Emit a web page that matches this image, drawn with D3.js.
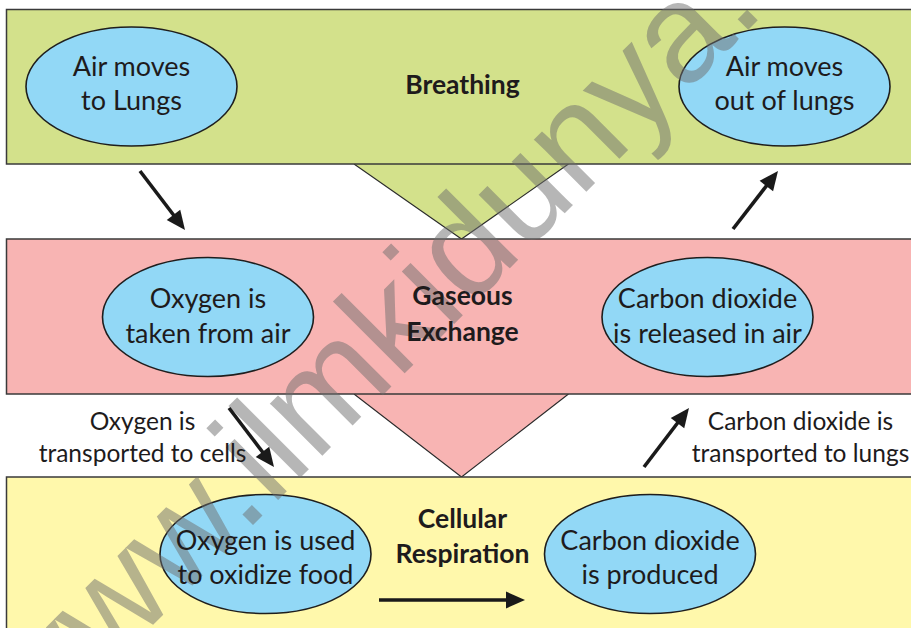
<!DOCTYPE html>
<html>
<head>
<meta charset="utf-8">
<script src="https://cdn.jsdelivr.net/npm/d3@7"></script>
<style>
  html, body { margin: 0; padding: 0; background: #ffffff; }
  svg { display: block; }
</style>
</head>
<body>
<div id="chart"></div>
<script>
// ---------------- data ----------------
const stages = ["Breathing", "Gaseous Exchange", "Cellular Respiration"];
const stageTitleLines = [["Breathing"], ["Gaseous", "Exchange"], ["Cellular", "Respiration"]];
const stageColors = ["#d3e18b", "#f8b4b3", "#fff8ab"];

const leftSteps  = [["Air moves", "to Lungs"], ["Oxygen is", "taken from air"], ["Oxygen is used", "to oxidize food"]];
const rightSteps = [["Air moves", "out of lungs"], ["Carbon dioxide", "is released in air"], ["Carbon dioxide", "is produced"]];

const transportLabels = [["Oxygen is", "transported to cells"], ["Carbon dioxide is", "transported to lungs"]];
const watermark = "www.ilmkidunya.com";

// ---------------- layout ----------------
const W = 911, H = 628;
const svg = d3.select("#chart").append("svg").attr("width", W).attr("height", H);

const FONT = "Lato, 'Open Sans', sans-serif";
const ink = "#1e1b1c";

// vertical layout of stage bands
const y = d3.scaleOrdinal().domain(stages).range([9.5, 239, 477]);
const bandH = d3.scaleOrdinal().domain(stages).range([154.5, 155, 170]);
const bandX0 = 6.5, bandX1 = 915;
const x = d3.scaleLinear().domain([0, 1]).range([bandX0, bandX1]);

// ellipse centres per stage
const leftCx  = d3.scaleOrdinal().domain(stages).range([131.5, 208, 265.5]);
const rightCx = d3.scaleOrdinal().domain(stages).range([784.5, 707.5, 650]);
const ellCy   = d3.scaleOrdinal().domain(stages).range([86.5, 317, 554]);
const textOff = d3.scaleOrdinal().domain(stages).range([[-10.5, 23.5], [-9, 26], [-4, 30]]);
const titleBase = d3.scaleOrdinal().domain(stages).range([[94], [305, 341], [528, 563]]);
const RX = 105.5, RY = 59.5;

// ---------- triangles (behind bands) ----------
const triL = 354, triR = 568.5, triApexX = 461.5;
[0, 1].forEach(i => {
  const s = stages[i], yb = y(s) + bandH(s), ya = y(stages[i + 1]);
  svg.append("path")
    .attr("d", d3.line()([[triL, yb], [triApexX, ya], [triR, yb]]) + "Z")
    .attr("fill", stageColors[i])
    .attr("stroke", "none");
  svg.append("path")
    .attr("d", d3.line()([[triL, yb], [triApexX, ya], [triR, yb]]))
    .attr("fill", "none")
    .attr("stroke", "#2b2b2b")
    .attr("stroke-width", 1.1);
});

// ---------- bands ----------
svg.selectAll("rect.band").data(stages).join("rect")
  .attr("class", "band")
  .attr("x", x(0)).attr("width", x(1) - x(0))
  .attr("y", d => y(d)).attr("height", d => bandH(d))
  .attr("fill", (d, i) => stageColors[i])
  .attr("stroke", "#3a3a3a").attr("stroke-width", 1.5);

// ---------- ellipses ----------
const ellData = [];
stages.forEach((s, i) => {
  ellData.push({ cx: leftCx(s), cy: ellCy(s), lines: leftSteps[i], off: textOff(s) });
  ellData.push({ cx: rightCx(s), cy: ellCy(s), lines: rightSteps[i], off: textOff(s) });
});
svg.selectAll("ellipse.step").data(ellData).join("ellipse")
  .attr("class", "step")
  .attr("cx", d => d.cx).attr("cy", d => d.cy)
  .attr("rx", RX).attr("ry", RY)
  .attr("fill", "#92d8f6").attr("stroke", "#1e1e1e").attr("stroke-width", 1.6);

// ---------- watermark ----------
svg.append("text")
  .attr("transform", "translate(35,743) rotate(-45)")
  .attr("font-family", "'Liberation Sans', Arial, sans-serif")
  .attr("font-size", 140)
  .attr("fill", "#6e6e6e")
  .attr("fill-opacity", 0.5)
  .text(watermark);

// ---------- ellipse texts ----------
ellData.forEach(d => {
  d.lines.forEach((t, j) => {
    svg.append("text")
      .attr("x", d.cx).attr("y", d.cy + d.off[j])
      .attr("text-anchor", "middle")
      .attr("font-family", FONT).attr("font-size", 27)
      .attr("fill", ink)
      .text(t);
  });
});

// ---------- stage titles ----------
stages.forEach((s, i) => {
  stageTitleLines[i].forEach((t, j) => {
    svg.append("text")
      .attr("x", 462.5).attr("y", titleBase(s)[j])
      .attr("text-anchor", "middle")
      .attr("font-family", FONT).attr("font-weight", 700).attr("font-size", 26.5)
      .attr("fill", ink)
      .text(t);
  });
});

// ---------- transport labels ----------
const labelCx = [142.5, 800.5];
const labelBase = [430, 462];
transportLabels.forEach((lines, i) => {
  lines.forEach((t, j) => {
    svg.append("text")
      .attr("x", labelCx[i]).attr("y", labelBase[j])
      .attr("text-anchor", "middle")
      .attr("font-family", FONT).attr("font-size", 24.5)
      .attr("fill", ink)
      .text(t);
  });
});

// ---------- arrows ----------
const arrows = [
  [[140, 171], [185, 230]],
  [[733, 229], [778, 171]],
  [[229, 408], [274, 467]],
  [[644, 467], [689, 408]],
  [[379, 600], [525, 600]]
];
const headLen = 19, headHalf = 8.5;
arrows.forEach(([a, b]) => {
  const dx = b[0] - a[0], dy = b[1] - a[1];
  const L = Math.hypot(dx, dy), ux = dx / L, uy = dy / L;
  const bx = b[0] - ux * headLen, by = b[1] - uy * headLen;
  svg.append("path")
    .attr("d", d3.line()([a, [bx + ux * 2, by + uy * 2]]))
    .attr("stroke", "#1a1a1a").attr("stroke-width", 3.6).attr("fill", "none");
  svg.append("path")
    .attr("d", d3.line()([b, [bx - uy * headHalf, by + ux * headHalf], [bx + uy * headHalf, by - ux * headHalf]]) + "Z")
    .attr("fill", "#1a1a1a");
});
</script>
</body>
</html>
